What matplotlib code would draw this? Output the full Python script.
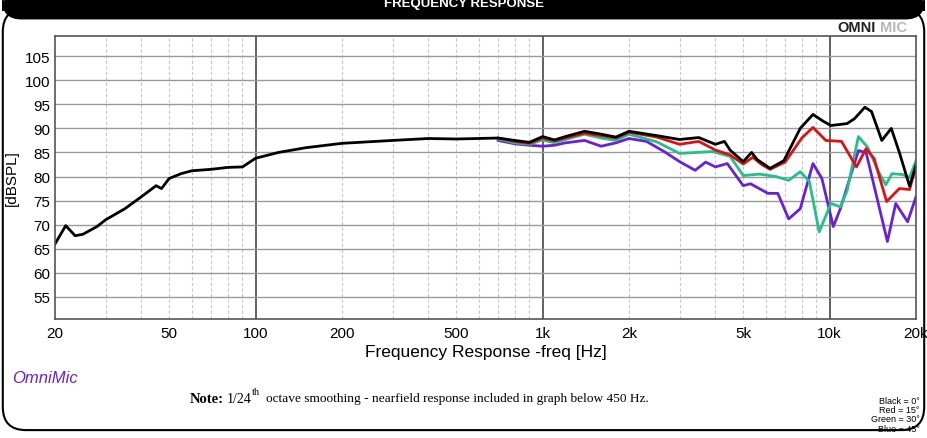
import matplotlib
matplotlib.use("Agg")
import matplotlib.pyplot as plt
from matplotlib.patches import FancyBboxPatch
from matplotlib.ticker import FixedLocator, NullFormatter

plt.rcParams["font.family"] = ["Liberation Sans", "DejaVu Sans"]

# 0 deg (black), full range incl. nearfield
black_f = [20, 21.8, 23.5, 25, 28, 30, 35, 40, 45, 47, 50, 55, 60, 70, 80, 90, 100, 120, 150, 200,
           300, 400, 500, 700, 800, 900, 1000, 1100, 1200, 1400, 1600, 1800, 2000, 2500, 3000,
           3500, 4000, 4300, 4500, 5000, 5350, 5600, 6200, 6930, 7900, 8750, 9500, 10100, 11500,
           12200, 13270, 14000, 15200, 16400, 17500, 19000, 20000]
black_db = [66, 69.8, 67.7, 68, 69.6, 71, 73.3, 75.8, 78.1, 77.5, 79.6, 80.6, 81.2, 81.5, 81.9, 82,
            83.8, 85, 86, 86.9, 87.5, 87.9, 87.8, 88, 87.5, 87.1, 88.3, 87.6, 88.3, 89.4, 88.8,
            88.2, 89.4, 88.5, 87.7, 88.1, 86.7, 87.3, 85.5, 83.1, 85, 83.5, 81.7, 83.3, 90, 92.9,
            91.5, 90.6, 91, 92, 94.4, 93.5, 87.5, 90, 85, 78, 82.3]

# 15 deg (red)
red_f = [700, 800, 900, 1000, 1100, 1200, 1400, 1600, 1800, 2000, 2500, 3000, 3500, 4000, 4500,
         5000, 5400, 5800, 6200, 7000, 8000, 8750, 9700, 11000, 12400, 13400, 14300, 15800, 17500,
         19000, 20000]
red_db = [88, 87.3, 86.9, 88, 87.4, 88, 89, 88.5, 88, 89.2, 88.2, 86.7, 87.3, 85.5, 84.5, 82.6, 84,
          82.5, 81.5, 83, 88, 90.2, 87.5, 87.3, 82, 85.8, 83.7, 74.8, 77.5, 77.3, 82.3]

# 30 deg (green)
green_f = [700, 800, 900, 1000, 1100, 1200, 1400, 1600, 1800, 2000, 2500, 3000, 3900, 4500, 5000,
           5700, 6500, 7200, 7900, 8500, 9200, 10100, 10900, 11500, 12600, 13600, 14800, 15700,
           16500, 18000, 19000, 20000]
green_db = [87.8, 87, 86.7, 87.6, 87, 87.7, 88.8, 88, 87.5, 88.8, 87.2, 84.8, 85.2, 84.2, 80.2,
            80.5, 80, 79.2, 81, 79, 68.5, 74.4, 73.7, 77, 88.3, 86, 81, 78.3, 80.6, 80.4, 79.8, 83.3]

# 45 deg (blue)
blue_f = [700, 800, 900, 1000, 1100, 1200, 1400, 1600, 1800, 2000, 2300, 2650, 3000, 3400, 3700,
          4000, 4400, 5000, 5300, 6100, 6600, 7200, 7900, 8750, 9400, 10300, 10900, 12600, 13400,
          15900, 17000, 18700, 20000]
blue_db = [87.5, 86.8, 86.5, 86.3, 86.5, 87, 87.5, 86.3, 87, 87.9, 87.3, 85.2, 83.1, 81.3, 83, 82,
           82.7, 78.1, 78.5, 76.5, 76.5, 71.2, 73.3, 82.7, 79.6, 69.6, 73.3, 85.4, 85, 66.5, 74.4,
           70.6, 75.8]

x_ticks = [20, 50, 100, 200, 500, 1000, 2000, 5000, 10000, 20000]
x_labels = ["20", "50", "100", "200", "500", "1k", "2k", "5k", "10k", "20k"]
y_ticks = [55, 60, 65, 70, 75, 80, 85, 90, 95, 100, 105]

fig = plt.figure(figsize=(9.27, 4.39), dpi=100)
fig.patch.set_facecolor("white")

aspect = 927 / 439
frame = FancyBboxPatch((0.003, 0.018), 0.994, 0.96, boxstyle="round,pad=0,rounding_size=0.025",
                       transform=fig.transFigure, fc="white", ec="black", lw=1.5, zorder=-5,
                       mutation_aspect=aspect)
fig.patches.append(frame)
hdr = FancyBboxPatch((0.003, 0.955), 0.994, 0.06, boxstyle="round,pad=0,rounding_size=0.02",
                     transform=fig.transFigure, fc="black", ec="black", zorder=-4,
                     mutation_aspect=aspect)
fig.patches.append(hdr)
fig.text(0.5, 0.99, "FREQUENCY RESPONSE", color="white", ha="center", va="center",
         fontsize=9.5, fontweight="bold")
fig.text(0.903, 0.937, "OMNI", color="#222222", ha="left", va="center", fontsize=10.5,
         fontweight="bold")
fig.text(0.949, 0.937, "MIC", color="#b8b8b8", ha="left", va="center", fontsize=10.5,
         fontweight="bold")

ax = fig.add_axes([55 / 927, 1 - 320 / 439, (916 - 55) / 927, (320 - 37) / 439])
ax.set_xscale("log")
ax.set_xlim(20, 20000)
ax.set_ylim(50.4, 109.2)

ax.plot(blue_f, blue_db, color="#6a1ee0", lw=2)
ax.plot(green_f, green_db, color="#22c08a", lw=2)
ax.plot(red_f, red_db, color="#e01010", lw=2)
ax.plot(black_f, black_db, color="black", lw=2)

ax.xaxis.set_major_locator(FixedLocator(x_ticks))
ax.set_xticklabels(x_labels)
ax.xaxis.set_minor_formatter(NullFormatter())
ax.set_yticks(y_ticks)
ax.tick_params(which="both", length=0, labelsize=11)
ax.tick_params(axis="x", pad=5)
ax.grid(False)
for d in [100, 1000, 10000]:
    ax.axvline(d, color="#555555", lw=1.3, zorder=0)
for dec in [10, 100, 1000, 10000]:
    for m in range(2, 10):
        f = dec * m
        if 20 < f < 20000:
            ax.axvline(f, color="#c8c8c8", lw=0.8, ls=(0, (3, 2)), zorder=0)
for y in y_ticks:
    ax.axhline(y, color="#9a9a9a", lw=1, zorder=0)
for s in ax.spines.values():
    s.set_color("#555555")
    s.set_linewidth(1.2)
ax.set_ylabel("[dBSPL]", fontsize=11, labelpad=4)
ax.set_xlabel("Frequency Response -freq [Hz]", fontsize=12.5, labelpad=3)

fig.text(0.013, 0.137, "OmniMic", color="#6a1ee0", fontsize=12, style="italic", va="center")
fig.text(0.205, 0.09, "Note:", ha="left", va="center", fontsize=10.5, fontweight="bold",
         family="Liberation Serif")
fig.text(0.245, 0.09, "1/24", ha="left", va="center", fontsize=10, family="Liberation Serif")
fig.text(0.2715, 0.105, "th", ha="left", va="center", fontsize=7.5, family="Liberation Serif")
fig.text(0.287, 0.09, "octave smoothing - nearfield response included in graph below 450 Hz.",
         ha="left", va="center", fontsize=9.6, family="Liberation Serif")
fig.text(0.992, 0.012, "Black = 0°\nRed = 15°\nGreen = 30°\nBlue = 45°", ha="right",
         va="bottom", fontsize=6.5, linespacing=1.05)

fig.savefig("out.png", dpi=100)
